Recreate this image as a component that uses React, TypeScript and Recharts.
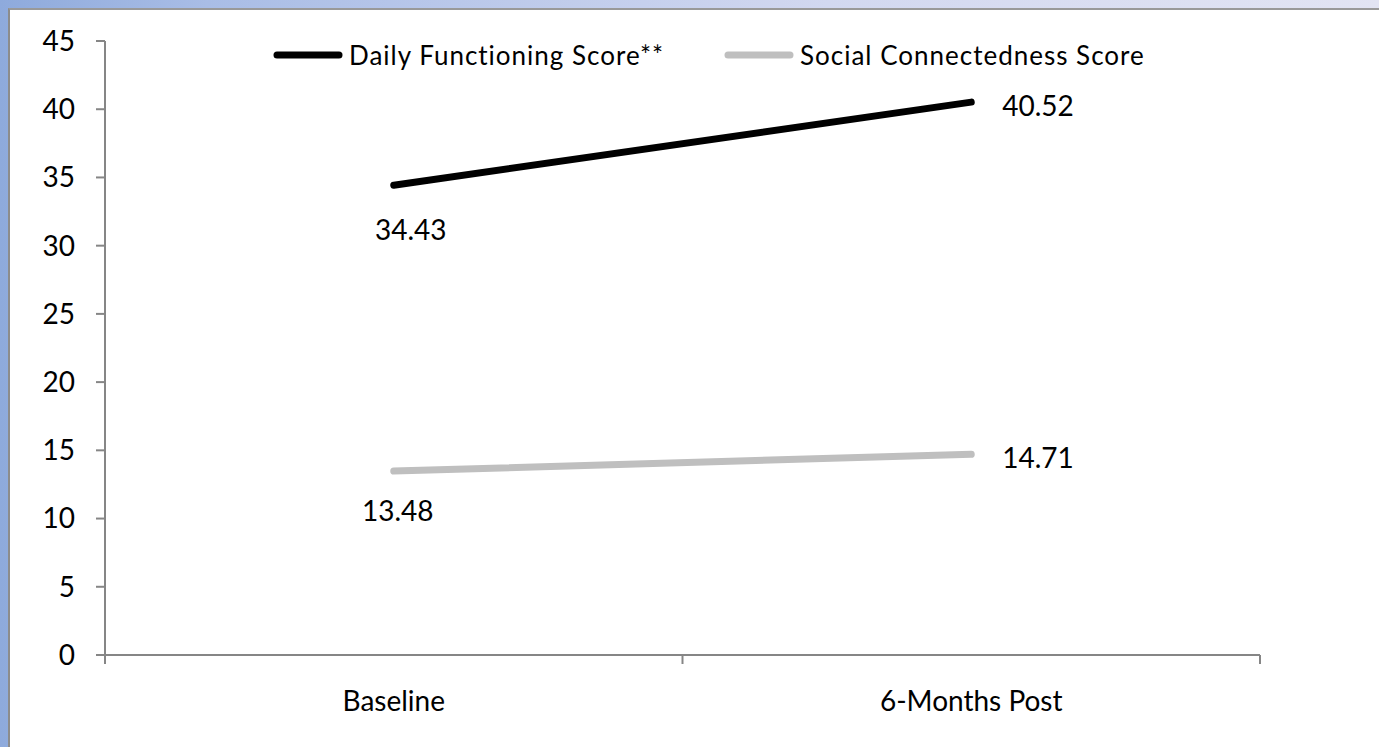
import React from 'react';
import { LineChart, Line, XAxis, YAxis, Legend, LabelList } from 'recharts';

const categories: string[] = ['Baseline', '6-Months Post'];
const dailyFunctioning: number[] = [34.43, 40.52];
const socialConnectedness: number[] = [13.48, 14.71];
const yTicks: number[] = [0, 5, 10, 15, 20, 25, 30, 35, 40, 45];
const seriesNames = { daily: 'Daily Functioning Score**', social: 'Social Connectedness Score' };

const data = categories.map((c, i) => ({
  pos: i + 0.5,
  name: c,
  daily: dailyFunctioning[i],
  social: socialConnectedness[i],
}));
const xTicks: number[] = [];
for (let i = 0; i <= categories.length; i++) {
  xTicks.push(i);
  if (i < categories.length) xTicks.push(i + 0.5);
}

const FONT = 'Lato, "Open Sans", sans-serif';
const AXIS = '#868686';

const XTick = (props: any) => {
  const { x, y, payload } = props;
  const v = payload.value;
  if (Number.isInteger(v)) {
    return <line x1={x} y1={y} x2={x} y2={y + 9} stroke={AXIS} strokeWidth={2} />;
  }
  return (
    <text x={x} y={y + 56} textAnchor="middle" fontSize={28} fontFamily={FONT} fill="#000">
      {categories[Math.floor(v)]}
    </text>
  );
};

const makeLabel = (belowDx: number, belowDy: number) => (props: any) => {
  const { x, y, value, index } = props;
  if (index === 0) {
    return (
      <text x={x + belowDx} y={y + belowDy} textAnchor="middle" fontSize={28} fontFamily={FONT} fill="#000">
        {value}
      </text>
    );
  }
  return (
    <text x={x + 31} y={y + 14} textAnchor="start" fontSize={28} fontFamily={FONT} fill="#000">
      {value}
    </text>
  );
};

const LegendContent = (props: any) => {
  const { payload = [] } = props;
  return (
    <div style={{ display: 'flex', fontFamily: FONT, fontSize: 26, lineHeight: '30px', color: '#000' }}>
      {payload.map((p: any, i: number) => (
        <div key={i} style={{ display: 'flex', alignItems: 'center', width: i === 0 ? 451 : 'auto' }}>
          <svg width={70} height={10} style={{ display: 'block' }}>
            <line x1={4} y1={5} x2={66} y2={5} stroke={p.color} strokeWidth={7} strokeLinecap="round" />
          </svg>
          <span style={{ marginLeft: 6, letterSpacing: 1 }}>{p.value}</span>
        </div>
      ))}
    </div>
  );
};

export default function App() {
  return (
    <div
      style={{
        position: 'fixed',
        left: 0,
        top: 0,
        width: 1379,
        height: 747,
        overflow: 'hidden',
        background: 'linear-gradient(to right, #8eaadc 0%, #a9bde6 15%, #d2d8f0 60%, #e2e4f3 100%)',
      }}
    >
      <div
        style={{
          position: 'absolute',
          left: 8,
          top: 8,
          width: 1371,
          height: 739,
          background: '#fff',
          borderLeft: '2px solid #8c8c8c',
          borderTop: '2px solid #999',
          boxSizing: 'border-box',
        }}
      />
      <div style={{ position: 'absolute', left: 0, top: 0 }}>
        <LineChart width={1379} height={747} data={data} margin={{ top: 41, right: 119, left: 0, bottom: 32 }}>
          <XAxis
            dataKey="pos"
            type="number"
            domain={[0, categories.length]}
            ticks={xTicks}
            interval={0}
            tickLine={false}
            tickSize={0}
            tickMargin={0}
            tick={<XTick />}
            axisLine={{ stroke: AXIS, strokeWidth: 2 }}
            height={60}
          />
          <YAxis
            domain={[0, 45]}
            ticks={yTicks}
            interval={0}
            width={105}
            tickSize={9}
            tickMargin={21}
            axisLine={{ stroke: AXIS, strokeWidth: 2 }}
            tickLine={{ stroke: AXIS, strokeWidth: 2 }}
            tick={{ fill: '#000', fontSize: 28, fontFamily: FONT }}
          />
          <Legend
            layout="horizontal"
            verticalAlign="middle"
            content={<LegendContent />}
            wrapperStyle={{ top: 40, left: 273, width: 1000, height: 30 }}
          />
          <Line
            dataKey="daily"
            name={seriesNames.daily}
            stroke="#000000"
            strokeWidth={7}
            strokeLinecap="round"
            dot={false}
            activeDot={false}
            isAnimationActive={false}
          >
            <LabelList dataKey="daily" content={makeLabel(17, 55)} />
          </Line>
          <Line
            dataKey="social"
            name={seriesNames.social}
            stroke="#bfbfbf"
            strokeWidth={7}
            strokeLinecap="round"
            dot={false}
            activeDot={false}
            isAnimationActive={false}
          >
            <LabelList dataKey="social" content={makeLabel(4, 50)} />
          </Line>
        </LineChart>
      </div>
    </div>
  );
}
